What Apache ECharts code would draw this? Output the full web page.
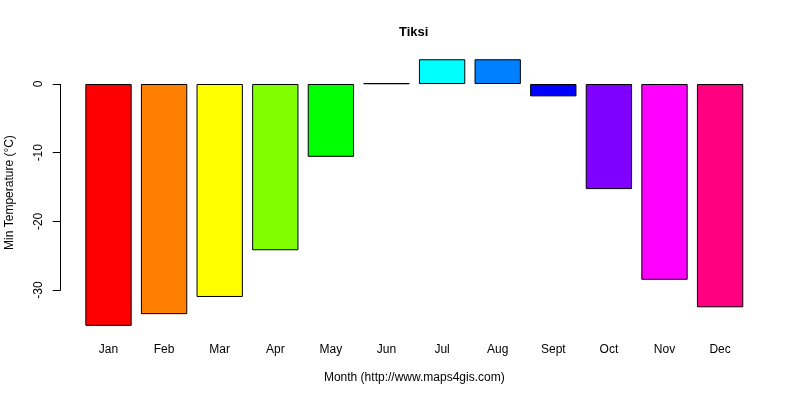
<!DOCTYPE html>
<html>
<head>
<meta charset="utf-8">
<script src="https://cdn.jsdelivr.net/npm/echarts@6/dist/echarts.min.js"></script>
<style>html,body{margin:0;padding:0;background:#fff}#c{width:800px;height:400px}</style>
</head>
<body>
<div id="c"></div>
<script>
const months = ['Jan','Feb','Mar','Apr','May','Jun','Jul','Aug','Sept','Oct','Nov','Dec'];
const minTemp = [-35.2, -33.5, -31.0, -24.2, -10.6, 0.1, 3.6, 3.6, -1.8, -15.3, -28.5, -32.5];
const barColors = ['#FF0000','#FF8000','#FFFF00','#80FF00','#00FF00','#00FF80','#00FFFF','#0080FF','#0000FF','#8000FF','#FF00FF','#FF0080'];
const yTicks = [0, -10, -20, -30];
const titleText = 'Tiksi';
const xName = 'Month (http://www.maps4gis.com)';
const yName = 'Min Temperature (°C)';

const font = 'Liberation Sans, Arial, sans-serif';
const dMin = Math.min(...minTemp), dMax = Math.max(...minTemp);
const pad = (dMax - dMin) * 0.04;

const chart = echarts.init(document.getElementById('c'), null, {renderer: 'canvas'});
chart.setOption({
  animation: false,
  backgroundColor: '#fff',
  title: {
    text: titleText, left: 399, top: 26, padding: 0,
    textStyle: {fontFamily: font, fontSize: 13, fontWeight: 'bold', color: '#000'}
  },
  grid: {left: 80.7, right: 52.1, top: 48.6, bottom: 63.5, containLabel: false, outerBoundsMode: 'none'},
  xAxis: {
    type: 'category', data: months,
    axisLine: {show: false}, axisTick: {show: false},
    axisLabel: {margin: 7, fontFamily: font, fontSize: 12, color: '#000'},
    name: xName, nameLocation: 'middle', nameGap: 35,
    nameTextStyle: {fontFamily: font, fontSize: 12, color: '#000'}
  },
  yAxis: {
    type: 'value', min: dMin - pad, max: dMax + pad, offset: 20,
    splitLine: {show: false},
    axisLine: {show: false},
    axisTick: {show: true, length: 8, customValues: yTicks, lineStyle: {color: '#000', width: 1}},
    axisLabel: {customValues: yTicks, rotate: 90, margin: 16, fontFamily: font, fontSize: 12, color: '#000'},
    name: yName, nameLocation: 'middle', nameGap: 45,
    nameTextStyle: {fontFamily: font, fontSize: 12, color: '#000'}
  },
  series: [{
    type: 'bar',
    barCategoryGap: '16.67%',
    data: minTemp.map((v, i) => ({value: v, itemStyle: {color: barColors[i]}})),
    itemStyle: {borderColor: '#000', borderWidth: 1}
  }]
});

const yTop = chart.convertToPixel({yAxisIndex: 0}, yTicks[0]);
const yBot = chart.convertToPixel({yAxisIndex: 0}, yTicks[yTicks.length - 1]);
chart.setOption({
  graphic: [{
    type: 'line', shape: {x1: 60.5, y1: yTop, x2: 60.5, y2: yBot},
    style: {stroke: '#000', lineWidth: 1}
  }]
});
</script>
</body>
</html>
